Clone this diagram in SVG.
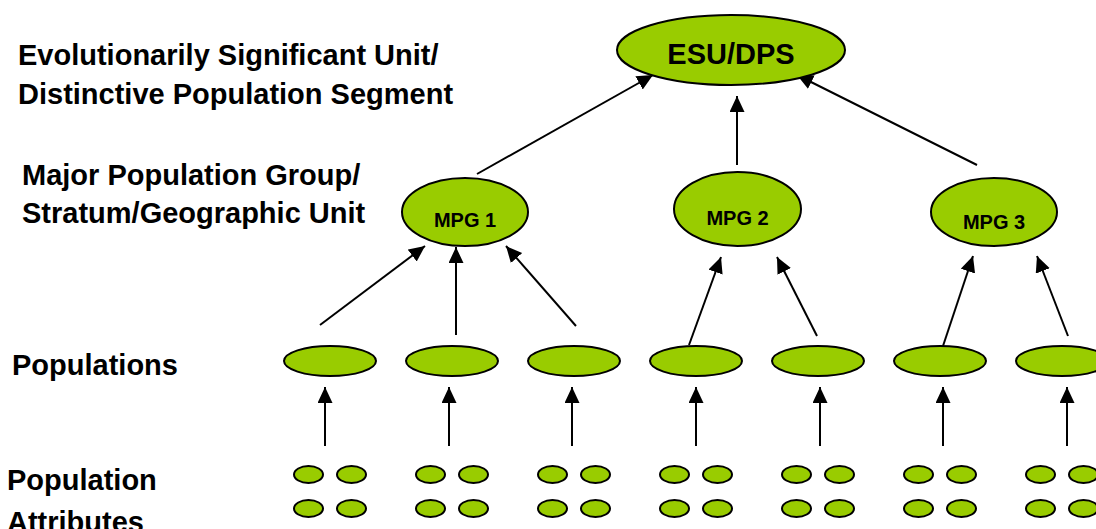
<svg xmlns="http://www.w3.org/2000/svg" width="1096" height="529" viewBox="0 0 1096 529">
<defs>
<style>
.n{fill:#99CC00;stroke:#000;stroke-width:2}
.c{stroke:#000;stroke-width:2;fill:none;marker-end:url(#ah)}
.lbl{font-family:"Liberation Sans",Arial,sans-serif;font-weight:bold;font-size:29px;fill:#000}
.nt{font-family:"Liberation Sans",Arial,sans-serif;font-weight:bold;fill:#000;text-anchor:middle}
</style>
<marker id="ah" markerUnits="userSpaceOnUse" markerWidth="17" markerHeight="16" refX="16" refY="7.5" orient="auto">
<path d="M0,0 L16,7.5 L0,15 z" fill="#000"/>
</marker>
</defs>
<rect width="1096" height="529" fill="#fff"/>
<g id="labels">
<text class="lbl" x="18" y="65">Evolutionarily Significant Unit/</text>
<text class="lbl" x="18" y="104">Distinctive Population Segment</text>
<text class="lbl" x="22" y="185">Major Population Group/</text>
<text class="lbl" x="22" y="223">Stratum/Geographic Unit</text>
<text class="lbl" x="12" y="375">Populations</text>
<text class="lbl" x="7" y="490">Population</text>
<text class="lbl" x="7" y="532">Attributes</text>
</g>
<g id="connectors">
<line class="c" x1="477" y1="174" x2="653" y2="75"/>
<line class="c" x1="737" y1="165" x2="737" y2="96"/>
<line class="c" x1="977" y1="165" x2="797" y2="75"/>
<line class="c" x1="320" y1="325" x2="425" y2="246"/>
<line class="c" x1="456" y1="335" x2="456" y2="247"/>
<line class="c" x1="576" y1="326" x2="506" y2="246"/>
<line class="c" x1="689" y1="345" x2="721" y2="257"/>
<line class="c" x1="817" y1="336" x2="777" y2="257"/>
<line class="c" x1="943" y1="346" x2="973" y2="256"/>
<line class="c" x1="1068" y1="336" x2="1037" y2="256"/>
<line class="c" x1="325" y1="446" x2="325" y2="387"/>
<line class="c" x1="449" y1="446" x2="449" y2="387"/>
<line class="c" x1="572" y1="446" x2="572" y2="387"/>
<line class="c" x1="696" y1="446" x2="696" y2="387"/>
<line class="c" x1="820" y1="446" x2="820" y2="387"/>
<line class="c" x1="943" y1="446" x2="943" y2="387"/>
<line class="c" x1="1067" y1="446" x2="1067" y2="387"/>
</g>
<g id="esu">
<ellipse class="n" cx="731" cy="50" rx="114" ry="35"/>
<text class="nt" x="731" y="64" font-size="29">ESU/DPS</text>
</g>
<g id="mpg1">
<ellipse class="n" cx="465" cy="212" rx="63" ry="34"/>
<text class="nt" x="465" y="227" font-size="20">MPG 1</text>
</g>
<g id="mpg2">
<ellipse class="n" cx="737.5" cy="209" rx="63.5" ry="37"/>
<text class="nt" x="737.5" y="225" font-size="20">MPG 2</text>
</g>
<g id="mpg3">
<ellipse class="n" cx="994" cy="212" rx="63" ry="34"/>
<text class="nt" x="994" y="229" font-size="20">MPG 3</text>
</g>
<g id="pop1"><ellipse class="n" cx="330" cy="361" rx="46" ry="15"/></g>
<g id="pop2"><ellipse class="n" cx="452" cy="361" rx="46" ry="15"/></g>
<g id="pop3"><ellipse class="n" cx="574" cy="361" rx="46" ry="15"/></g>
<g id="pop4"><ellipse class="n" cx="696" cy="361" rx="46" ry="15"/></g>
<g id="pop5"><ellipse class="n" cx="818" cy="361" rx="46" ry="15"/></g>
<g id="pop6"><ellipse class="n" cx="940" cy="361" rx="46" ry="15"/></g>
<g id="pop7"><ellipse class="n" cx="1062" cy="361" rx="46" ry="15"/></g>
<g id="attr1"><ellipse class="n" cx="308.5" cy="474.5" rx="14.5" ry="8.5"/><ellipse class="n" cx="351.5" cy="474.5" rx="14.5" ry="8.5"/><ellipse class="n" cx="308.5" cy="508.5" rx="14.5" ry="8.5"/><ellipse class="n" cx="351.5" cy="508.5" rx="14.5" ry="8.5"/></g>
<g id="attr2"><ellipse class="n" cx="430.5" cy="474.5" rx="14.5" ry="8.5"/><ellipse class="n" cx="473.5" cy="474.5" rx="14.5" ry="8.5"/><ellipse class="n" cx="430.5" cy="508.5" rx="14.5" ry="8.5"/><ellipse class="n" cx="473.5" cy="508.5" rx="14.5" ry="8.5"/></g>
<g id="attr3"><ellipse class="n" cx="552.5" cy="474.5" rx="14.5" ry="8.5"/><ellipse class="n" cx="595.5" cy="474.5" rx="14.5" ry="8.5"/><ellipse class="n" cx="552.5" cy="508.5" rx="14.5" ry="8.5"/><ellipse class="n" cx="595.5" cy="508.5" rx="14.5" ry="8.5"/></g>
<g id="attr4"><ellipse class="n" cx="674.5" cy="474.5" rx="14.5" ry="8.5"/><ellipse class="n" cx="717.5" cy="474.5" rx="14.5" ry="8.5"/><ellipse class="n" cx="674.5" cy="508.5" rx="14.5" ry="8.5"/><ellipse class="n" cx="717.5" cy="508.5" rx="14.5" ry="8.5"/></g>
<g id="attr5"><ellipse class="n" cx="796.5" cy="474.5" rx="14.5" ry="8.5"/><ellipse class="n" cx="839.5" cy="474.5" rx="14.5" ry="8.5"/><ellipse class="n" cx="796.5" cy="508.5" rx="14.5" ry="8.5"/><ellipse class="n" cx="839.5" cy="508.5" rx="14.5" ry="8.5"/></g>
<g id="attr6"><ellipse class="n" cx="918.5" cy="474.5" rx="14.5" ry="8.5"/><ellipse class="n" cx="961.5" cy="474.5" rx="14.5" ry="8.5"/><ellipse class="n" cx="918.5" cy="508.5" rx="14.5" ry="8.5"/><ellipse class="n" cx="961.5" cy="508.5" rx="14.5" ry="8.5"/></g>
<g id="attr7"><ellipse class="n" cx="1040.5" cy="474.5" rx="14.5" ry="8.5"/><ellipse class="n" cx="1083.5" cy="474.5" rx="14.5" ry="8.5"/><ellipse class="n" cx="1040.5" cy="508.5" rx="14.5" ry="8.5"/><ellipse class="n" cx="1083.5" cy="508.5" rx="14.5" ry="8.5"/></g>
</svg>
